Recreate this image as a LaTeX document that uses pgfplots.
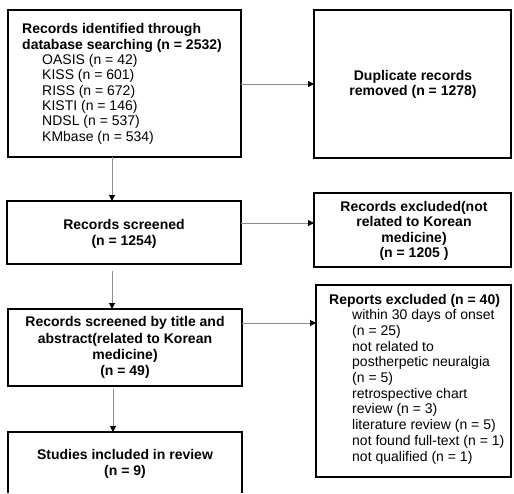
\documentclass[border=0pt]{standalone}
\usepackage{pgfplots}
\pgfplotsset{compat=1.18}
\usepackage{fontspec}
\setmainfont{Liberation Sans}
\usetikzlibrary{arrows.meta}
\begin{document}
\begin{tikzpicture}
\begin{axis}[width=514pt,height=493pt,scale only axis,
  xmin=0,xmax=514,ymin=0,ymax=493,y dir=reverse,hide axis,clip=false]
\path[draw=none] (axis cs:0,0) rectangle (axis cs:514,493);
% boxes
\draw[line width=1.3pt] (axis cs:8,10) rectangle (axis cs:241,157);
\draw[line width=1.3pt] (axis cs:314,10) rectangle (axis cs:511,158);
\draw[line width=1.3pt] (axis cs:7,201) rectangle (axis cs:241,264);
\draw[line width=1.3pt] (axis cs:314,193) rectangle (axis cs:511,267);
\draw[line width=1.3pt] (axis cs:8,309) rectangle (axis cs:242,386);
\draw[line width=1.3pt] (axis cs:316,285) rectangle (axis cs:511,477);
\draw[line width=1.3pt] (axis cs:8,493) -- (axis cs:8,432) -- (axis cs:242,432) -- (axis cs:242,493);
% arrows
\tikzset{arr/.style={draw=black!45,line width=1pt,-{Triangle[length=6pt,width=6pt,color=black]}}}
\draw[arr] (axis cs:241,84) -- (axis cs:314,84);
\draw[arr] (axis cs:112,157) -- (axis cs:112,201);
\draw[arr] (axis cs:241,223) -- (axis cs:314,223);
\draw[arr] (axis cs:112,271) -- (axis cs:112,309);
\draw[arr] (axis cs:242,323) -- (axis cs:316,323);
\draw[arr] (axis cs:113,389) -- (axis cs:113,432);
% texts
\node[anchor=base west,align=left,inner sep=0pt,font=\fontsize{14}{15.3}\selectfont] at (axis cs:22,141)
{\textbf{Records identified through}\\\textbf{database searching (n = 2532)}\\
\hspace*{20pt}OASIS (n = 42)\\\hspace*{20pt}KISS (n = 601)\\\hspace*{20pt}RISS (n = 672)\\
\hspace*{20pt}KISTI (n = 146)\\\hspace*{20pt}NDSL (n = 537)\\\hspace*{20pt}KMbase (n = 534)};
\node[align=center,inner sep=0pt,font=\fontsize{14}{15.5}\selectfont\bfseries] at (axis cs:413,84.5)
{Duplicate records\\removed (n = 1278)};
\node[align=center,inner sep=0pt,font=\fontsize{14}{16}\selectfont\bfseries] at (axis cs:124,234)
{Records screened\\(n = 1254)};
\node[align=center,inner sep=0pt,font=\fontsize{14}{15.4}\selectfont\bfseries] at (axis cs:414,231)
{Records excluded(not\\related to Korean\\medicine)\\(n = 1205 )};
\node[align=center,inner sep=0pt,font=\fontsize{14}{16.2}\selectfont\bfseries] at (axis cs:125,347.5)
{Records screened by title and\\abstract(related to Korean\\medicine)\\(n = 49)};
\node[align=center,inner sep=0pt,font=\fontsize{14}{16}\selectfont\bfseries] at (axis cs:125,464)
{Studies included in review\\(n = 9)};
\node[anchor=base west,align=left,inner sep=0pt,font=\fontsize{14}{15.7}\selectfont] at (axis cs:329,461)
{\textbf{Reports excluded (n = 40)}\\
\hspace*{23pt}within 30 days of onset\\\hspace*{23pt}(n = 25)\\
\hspace*{23pt}not related to\\\hspace*{23pt}postherpetic neuralgia\\\hspace*{23pt}(n = 5)\\
\hspace*{23pt}retrospective chart\\\hspace*{23pt}review (n = 3)\\
\hspace*{23pt}literature review (n = 5)\\\hspace*{23pt}not found full-text (n = 1)\\
\hspace*{23pt}not qualified (n = 1)};
\end{axis}
\end{tikzpicture}
\end{document}
